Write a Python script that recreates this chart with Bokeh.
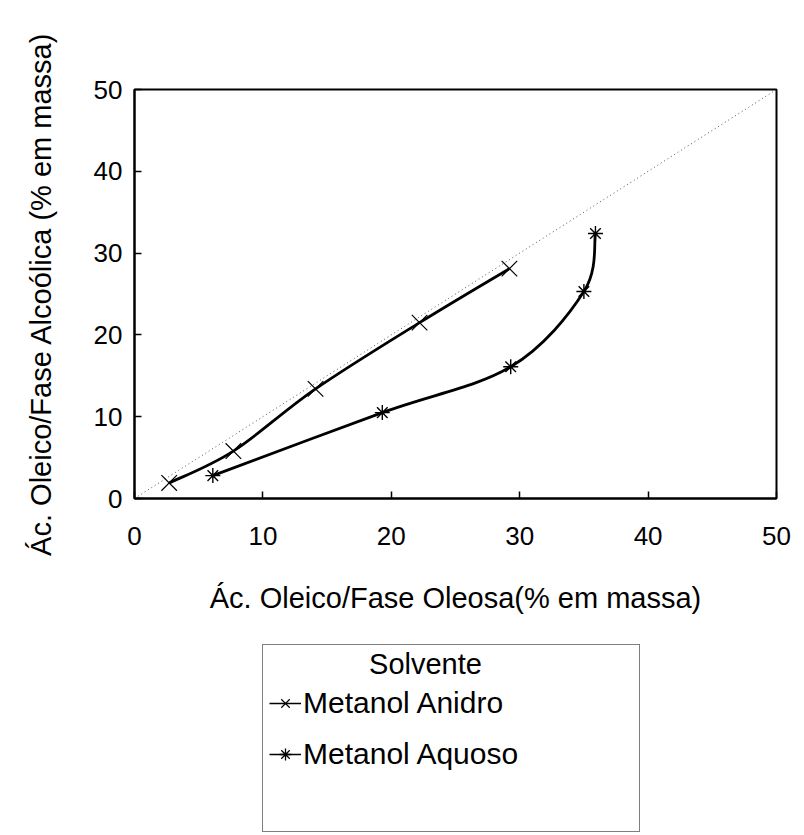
import numpy as np
from bokeh.plotting import figure
from bokeh.layouts import column
from bokeh.core.properties import value
from bokeh.models import Range1d, FixedTicker, Legend, LegendItem, ColumnDataSource
from bokeh.embed import file_html
from bokeh.resources import INLINE

# ---- data ----
anidro_x = [2.7, 7.7, 14.1, 22.2, 29.2]
anidro_y = [1.9, 5.8, 13.4, 21.5, 28.1]
aquoso_x = [6.1, 19.3, 29.3, 35.0, 35.9]
aquoso_y = [2.8, 10.5, 16.1, 25.3, 32.4]
diag = [0, 50]
ticks = [0, 10, 20, 30, 40, 50]

x_title = "Ác. Oleico/Fase Oleosa(% em massa)"
y_title = "Ác. Oleico/Fase Alcoólica (% em massa)"
legend_title = "Solvente"
names = ["Metanol Anidro", "Metanol Aquoso"]

FONT = "Liberation Sans"


def catmull_bezier(xs, ys):
    """Cubic bezier segments (Catmull-Rom) passing through all the data points."""
    x = np.asarray(xs, float)
    y = np.asarray(ys, float)
    n = len(x)
    xp = np.concatenate([[x[0]], x, [x[-1]]])
    yp = np.concatenate([[y[0]], y, [y[-1]]])
    d = dict(x0=[], y0=[], x1=[], y1=[], cx0=[], cy0=[], cx1=[], cy1=[])
    for i in range(n - 1):
        p0x, p1x, p2x, p3x = xp[i], xp[i + 1], xp[i + 2], xp[i + 3]
        p0y, p1y, p2y, p3y = yp[i], yp[i + 1], yp[i + 2], yp[i + 3]
        d["x0"].append(p1x); d["y0"].append(p1y)
        d["x1"].append(p2x); d["y1"].append(p2y)
        d["cx0"].append(p1x + (p2x - p0x) / 6.0); d["cy0"].append(p1y + (p2y - p0y) / 6.0)
        d["cx1"].append(p2x - (p3x - p1x) / 6.0); d["cy1"].append(p2y - (p3y - p1y) / 6.0)
    return ColumnDataSource(d)


# ---------------- main plot ----------------
p = figure(width=804, height=620, output_backend="svg", toolbar_location=None,
           x_range=Range1d(0, 50), y_range=Range1d(0, 50),
           min_border_left=134, min_border_right=28, min_border_top=89, min_border_bottom=122)

p.grid.visible = False
p.background_fill_color = "white"
p.border_fill_color = "white"
p.outline_line_color = "black"
p.outline_line_width = 2

for ax in (p.xaxis[0], p.yaxis[0]):
    ax.ticker = FixedTicker(ticks=ticks)
    ax.minor_tick_line_color = None
    ax.major_tick_in = 7
    ax.major_tick_out = 0
    ax.major_tick_line_width = 1.5
    ax.major_tick_line_color = "black"
    ax.axis_line_width = 2
    ax.axis_line_color = "black"
    ax.major_label_text_font = FONT
    ax.major_label_text_font_size = "26px"
    ax.major_label_text_color = "black"
    ax.axis_label_text_font = FONT
    ax.axis_label_text_font_size = "29px"
    ax.axis_label_text_font_style = "normal"
    ax.axis_label_text_color = "black"

p.xaxis[0].axis_label = x_title
p.yaxis[0].axis_label = y_title
p.xaxis[0].major_label_standoff = 28
p.xaxis[0].axis_label_standoff = 34
p.yaxis[0].major_label_standoff = 12
p.yaxis[0].axis_label_standoff = 34

# diagonal y = x
p.line(diag, diag, line_color="#555555", line_width=1, line_dash="1 3")

# smooth curves through the data points
src_a = catmull_bezier(anidro_x, anidro_y)
src_q = catmull_bezier(aquoso_x, aquoso_y)
p.bezier(x0="x0", y0="y0", x1="x1", y1="y1", cx0="cx0", cy0="cy0", cx1="cx1", cy1="cy1",
         source=src_a, line_color="black", line_width=2.8)
p.bezier(x0="x0", y0="y0", x1="x1", y1="y1", cx0="cx0", cy0="cy0", cx1="cx1", cy1="cy1",
         source=src_q, line_color="black", line_width=2.8)

p.scatter(anidro_x, anidro_y, marker="x", size=22, line_color="black", line_width=1.2)
p.scatter(aquoso_x, aquoso_y, marker="asterisk", size=15, line_color="black", line_width=1.4)

# ---------------- legend panel (page-pixel coordinates) ----------------
lg = figure(width=804, height=215, output_backend="svg", toolbar_location=None,
            x_range=Range1d(134, 776), y_range=Range1d(835, 620),
            min_border_left=134, min_border_right=28, min_border_top=0, min_border_bottom=0)
lg.axis.visible = False
lg.grid.visible = False
lg.outline_line_color = None
lg.background_fill_color = "white"
lg.border_fill_color = "white"

la = lg.line([np.nan], [np.nan], line_color="black", line_width=1.5)
lq = lg.line([np.nan], [np.nan], line_color="black", line_width=1.5)
ma = lg.scatter([np.nan], [np.nan], marker="x", size=16, line_color="black", line_width=1.2)
mq = lg.scatter([np.nan], [np.nan], marker="asterisk", size=13, line_color="black", line_width=1.3)
blank = lg.line([np.nan], [np.nan], line_alpha=0)

legend = Legend(items=[LegendItem(label=names[0], renderers=[la, ma]),
                       LegendItem(label=names[1], renderers=[lq, mq]),
                       LegendItem(label="", renderers=[blank])],
                location=(128, 3), title=" ",
                title_text_font=FONT, title_text_font_size="28px", title_text_font_style="normal",
                label_text_font=FONT, label_text_font_size="30px", label_text_color="black",
                border_line_color="black", border_line_width=1.5,
                background_fill_alpha=0,
                glyph_width=32, glyph_height=30, label_standoff=2,
                label_width=330, label_height=40, spacing=11, padding=6,
                title_standoff=0)
lg.add_layout(legend, "center")

title_r = lg.text(x=[425], y=[663], text=[legend_title], text_font=value(FONT),
                  text_font_size="29px", text_color="black",
                  text_align="center", text_baseline="middle")
title_r.level = "overlay"

open("out.html", "w").write(file_html(column(p, lg, spacing=0), INLINE))
